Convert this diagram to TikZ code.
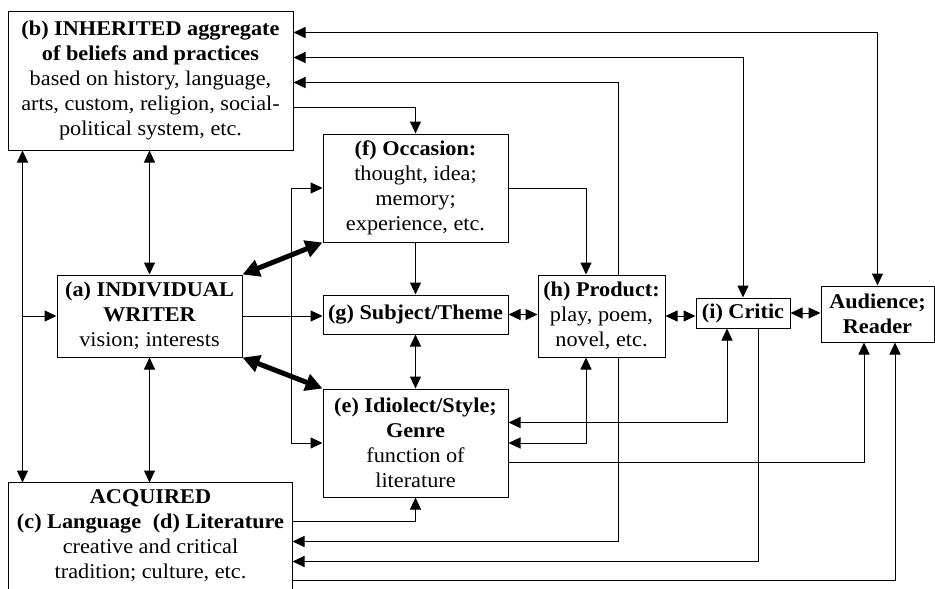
\documentclass[tikz,border=0pt]{standalone}
\usepackage{fontspec}
\setmainfont{Liberation Serif}[FakeStretch=1.06]
\usetikzlibrary{arrows.meta}
\begin{document}
\begin{tikzpicture}[x=1pt,y=-1pt,
 box/.style={draw,line width=1pt,inner sep=0pt,align=center,font=\fontsize{21}{25}\selectfont},
 ln/.style={line width=1pt},
 thk/.style={line width=5pt,{Triangle[length=17pt,width=17pt]}-{Triangle[length=17pt,width=17pt]}},
 >={Triangle[length=12pt,width=11pt]}]
\useasboundingbox (0,0) rectangle (935,589);
% nodes
\node[box,minimum width=285pt,minimum height=139pt] (b) at (150.5,80.5)
 {\textbf{(b) INHERITED aggregate}\\\textbf{of beliefs and practices}\\based on history, language,\\arts, custom, religion, social-\\political system, etc.};
\node[box,minimum width=185pt,minimum height=108pt] (f) at (415.5,188)
 {\textbf{(f) Occasion:}\\thought, idea;\\memory;\\experience, etc.};
\node[box,minimum width=185pt,minimum height=39pt] (g) at (415.5,314.5)
 {\textbf{(g) Subject/Theme}};
\node[box,minimum width=185pt,minimum height=108pt] (e) at (415.5,443)
 {\textbf{(e) Idiolect/Style;}\\\textbf{Genre}\\function of\\literature};
\node[box,minimum width=185pt,minimum height=82pt] (a) at (149.5,316)
 {\textbf{(a) INDIVIDUAL}\\\textbf{WRITER}\\vision; interests};
\node[box,minimum width=127pt,minimum height=82pt] (h) at (601.5,316)
 {\textbf{(h) Product:}\\play, poem,\\novel, etc.};
\node[box,minimum width=94pt,minimum height=30pt] (i) at (743,313)
 {\textbf{(i) Critic}};
\node[box,minimum width=113pt,minimum height=56pt] (aud) at (877.5,314)
 {\textbf{Audience;}\\\textbf{Reader}};
\node[box,draw=none,minimum width=283pt,minimum height=105pt] (acq) at (150.5,535.5)
 {\textbf{ACQUIRED}\\\textbf{(c) Language\hspace{0.55em}(d) Literature}\\creative and critical\\tradition; culture, etc.};
\draw[ln] ([yshift=-25pt]acq.south west) |- (acq.north east) -- ([yshift=-25pt]acq.south east);
% connectors from (b)
\draw[ln,<->] ([yshift=-22pt]b.north east) -| (aud.north);
\draw[ln,<->] ([yshift=-47pt]b.north east) -| (i.north);
\draw[ln,->] ([xshift=16.5pt]h.north) |- ([yshift=-72pt]b.north east);
\draw[ln,->] ([yshift=-97pt]b.north east) -| (f.north);
% occasion
\draw[ln,->] (f.east) -| ([xshift=-15.5pt]h.north);
\draw[ln,->] (f.south) -- (g.north);
\draw[ln,<->] (g.south) -- (e.north);
\draw[ln,<->] (g.east) -- (g.east -| h.west);
\draw[ln,<->] (h.east) -- (h.east -| i.west);
\draw[ln,<->] (i.east) -- (i.east -| aud.west);
% writer
\draw[ln,->] (a.east) -- (a.east -| g.west);
\draw[ln,<->] (f.west) -| ([xshift=-31pt]e.west) -- (e.west);
\draw[thk] (a.north east) -- (f.south west);
\draw[thk] (a.south east) -- (e.north west);
\draw[ln,<->] (a.north |- b.south) -- (a.north);
\draw[ln,<->] (a.south) -- (a.south |- acq.north);
\draw[ln,<->] ([xshift=15pt]b.south west) -- ([xshift=15pt]b.south west |- acq.north);
\draw[ln,->] ([xshift=-34pt]a.west) -- (a.west);
% idiolect
\draw[ln,<->] ([yshift=-34pt]e.north east) -| ([xshift=-16pt]i.south);
\draw[ln,<->] (e.east) -| ([xshift=-15.5pt]h.south);
\draw[ln,->] ([yshift=-74pt]e.north east) -| ([xshift=-13.5pt]aud.south);
% acquired
\draw[ln,->] ([yshift=-39pt]acq.north east) -| (e.south);
\draw[ln,->] ([xshift=16.5pt]h.south) |- ([yshift=-59pt]acq.north east);
\draw[ln,->] ([xshift=15pt]i.south) |- ([yshift=-79pt]acq.north east);
\draw[ln,->] ([yshift=-98pt]acq.north east) -| ([xshift=17.5pt]aud.south);
\end{tikzpicture}
\end{document}
